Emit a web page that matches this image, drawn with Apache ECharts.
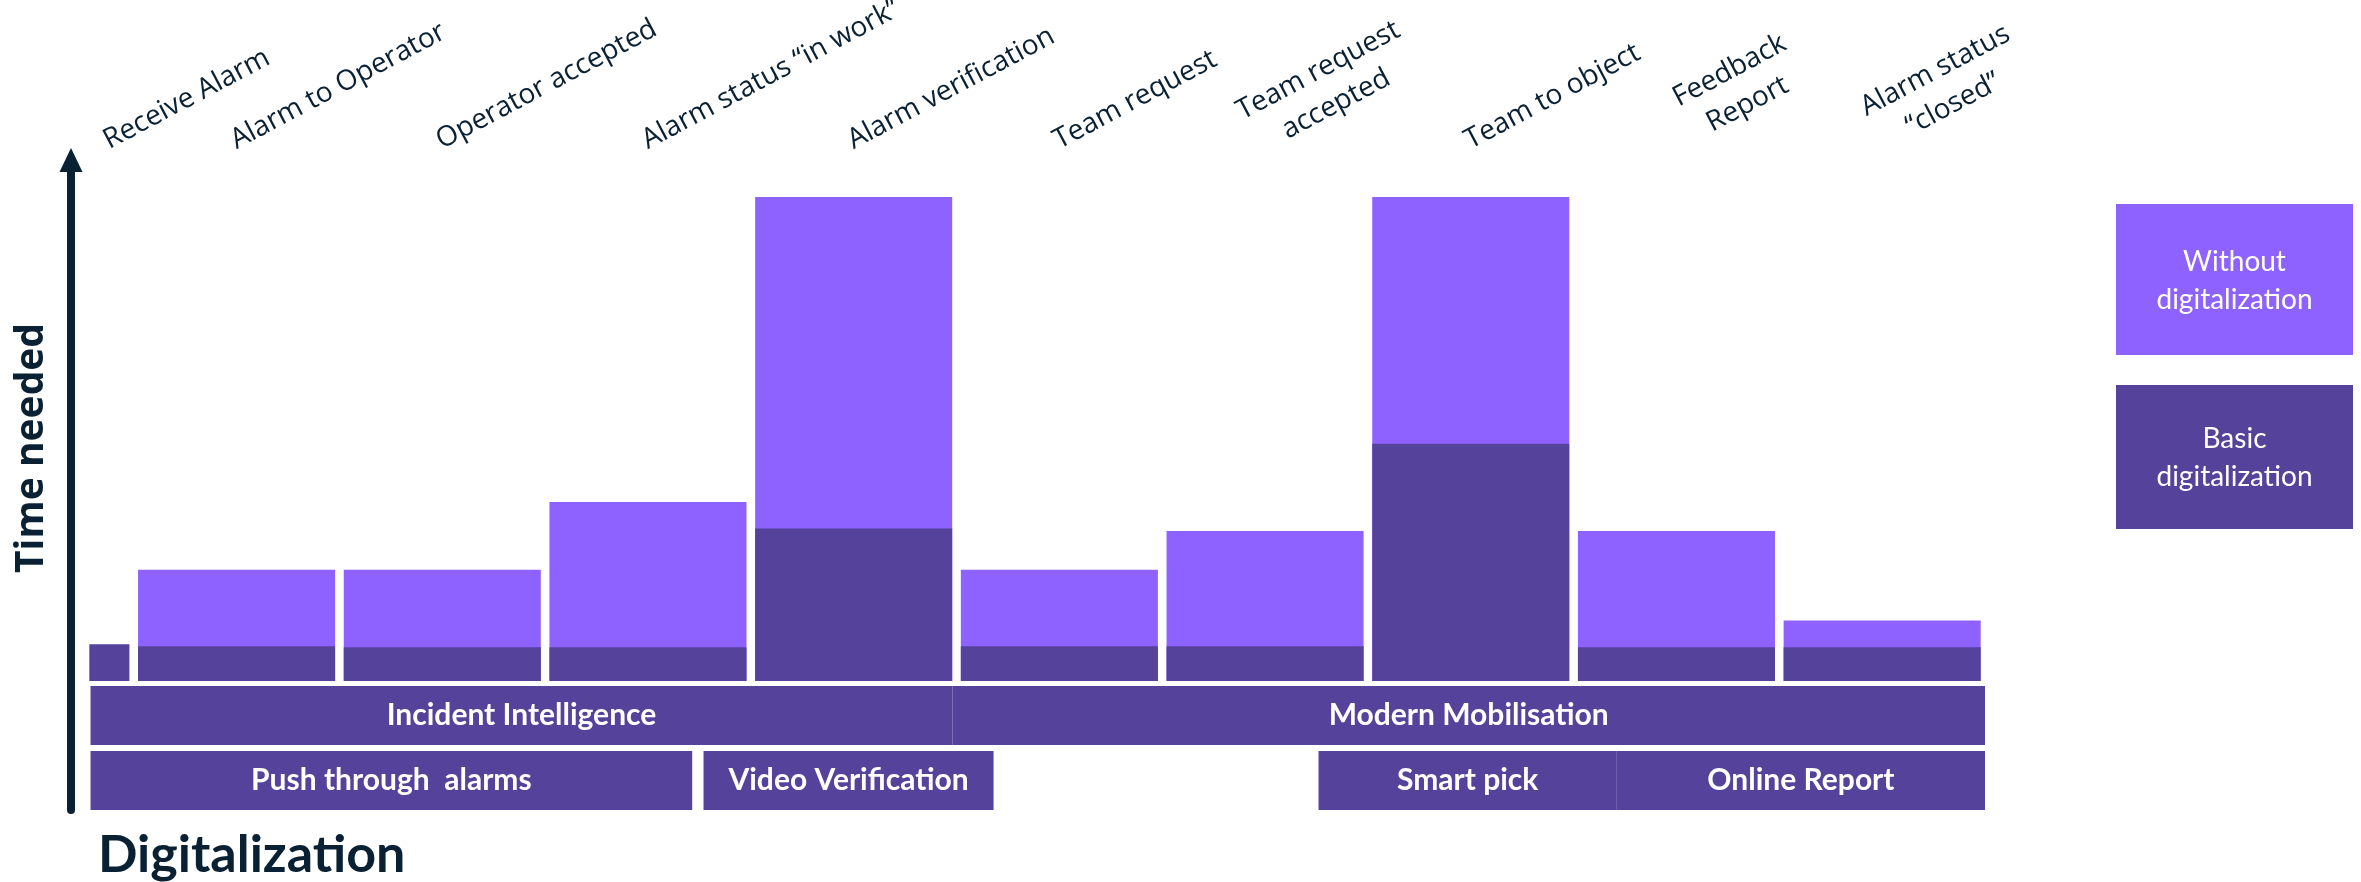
<!DOCTYPE html>
<html>
<head>
<meta charset="utf-8">
<script src="https://cdn.jsdelivr.net/npm/echarts/dist/echarts.min.js"></script>
<style>
  html, body { margin: 0; padding: 0; background: #fff; }
  #chart { width: 2361px; height: 882px; }
</style>
</head>
<body>
<div id="chart"></div>
<script>
// process steps (x categories)
const categories = [
  'Receive Alarm',
  'Alarm to Operator',
  'Operator accepted',
  'Alarm status “in work”',
  'Alarm verification',
  'Team request',
  'Team request\naccepted',
  'Team to object',
  'Feedback\nReport',
  'Alarm status\n“closed”',
];
// time needed per step (relative units, tallest = 100)
const withoutDigital = ['-', 23, 23, 37, 100, 23, 31, 100, 31, 12.5];
const basicDigital = [7.6, 7.2, 7, 7, 31.5, 7.2, 7.2, 49, 7, 7];

// digitalization layers, spans in step units
const layerNames = ['Incident Intelligence', 'Modern Mobilisation'];
const layerSpans = [[0.29, 4.48], [4.48, 9.5]];
const solutionNames = ['Push through  alarms', 'Video Verification', 'Smart pick', 'Online Report'];
const solutionSpans = [[0.29, 3.215], [3.27, 4.68], [6.26, 7.71], [7.71, 9.5]];

const seriesNames = ['Without digitalization', 'Basic digitalization'];

const LIGHT = '#8e62ff';
const DARK = '#54429b';
const NAVY = '#0a2133';

const chart = echarts.init(document.getElementById('chart'));

// rectangle of a step bar; first step is only an instant, so a thin bar at the right of its slot
function barRect(api, i, value) {
  const slot = api.size([1, 0])[0];
  const half = slot * 0.479;
  const base = api.coord([i, 0]);
  const top = api.coord([i, value]);
  let w = half * 2;
  let x = base[0] - half;
  if (i === 0) {
    w = slot * 0.195;
    x = base[0] + half - w;
  }
  return { x: x, y: top[1], width: w, height: base[1] - top[1] };
}

function barRenderer(color) {
  return function (params, api) {
    const v = api.value(1);
    if (isNaN(v)) return;
    return {
      type: 'rect',
      shape: barRect(api, api.value(0), v),
      style: { fill: color },
    };
  };
}

function bandRenderer(names, row) {
  return function (params, api) {
    const p0 = api.coord([api.value(0), 0]);
    const p1 = api.coord([api.value(1), 0]);
    const y = p0[1] + 5 + row * 65;
    const h = 59;
    return {
      type: 'group',
      children: [
        { type: 'rect', shape: { x: p0[0], y: y, width: p1[0] - p0[0], height: h }, style: { fill: DARK } },
        {
          type: 'text',
          x: (p0[0] + p1[0]) / 2,
          y: y + h / 2,
          style: {
            text: names[params.dataIndex],
            align: 'center',
            verticalAlign: 'middle',
            fill: '#fff',
            fontFamily: 'Lato',
            fontWeight: 'bold',
            fontSize: 30,
          },
        },
      ],
    };
  };
}

chart.setOption({
  animation: false,
  title: {
    text: 'Digitalization',
    left: 98,
    top: 829,
    padding: 0,
    textStyle: { fontFamily: 'Lato', fontWeight: 'bold', fontSize: 52, color: NAVY },
  },
  grid: { left: 71, right: 376, top: 160, bottom: 72 },
  xAxis: { type: 'value', min: 0.195, max: 9.5, show: false },
  yAxis: {
    type: 'value',
    min: -26.65,
    max: 107.65,
    name: 'Time needed',
    nameLocation: 'middle',
    nameRotate: 90,
    nameGap: 20,
    nameTextStyle: {
      fontFamily: 'Open Sans',
      fontWeight: 'bold',
      fontSize: 39,
      color: NAVY,
      padding: [0, 0, 0, 74],
    },
    axisLine: {
      show: true,
      symbol: ['none', 'triangle'],
      symbolSize: [23, 24],
      lineStyle: { color: NAVY, width: 8 },
    },
    axisTick: { show: false },
    axisLabel: { show: false },
    splitLine: { show: false },
  },
  series: [
    {
      name: seriesNames[0],
      type: 'custom',
      z: 2,
      renderItem: barRenderer(LIGHT),
      data: withoutDigital.map((v, i) => [i, v]),
    },
    {
      name: seriesNames[1],
      type: 'custom',
      z: 3,
      renderItem: barRenderer(DARK),
      data: basicDigital.map((v, i) => [i, v]),
    },
    {
      // step labels above the bars
      name: 'steps',
      type: 'custom',
      z: 3,
      renderItem: function (params, api) {
        const i = api.value(0);
        const text = categories[i];
        const r = barRect(api, i, 0);
        const cx = r.x + r.width / 2;
        const topY = api.coord([i, 100])[1];
        const multi = text.indexOf('\n') > -1;
        return {
          type: 'text',
          x: multi ? cx + 80 : cx + 5,
          y: multi ? topY - 76 : topY - 38,
          rotation: (28 * Math.PI) / 180,
          style: {
            text: text,
            align: multi ? 'center' : 'left',
            verticalAlign: 'bottom',
            fontFamily: 'Open Sans',
            fontSize: 28,
            lineHeight: 38,
            fill: NAVY,
          },
        };
      },
      data: categories.map((c, i) => [i, 0]),
    },
    {
      name: 'layers',
      type: 'custom',
      z: 3,
      renderItem: bandRenderer(layerNames, 0),
      data: layerSpans,
    },
    {
      name: 'solutions',
      type: 'custom',
      z: 3,
      renderItem: bandRenderer(solutionNames, 1),
      data: solutionSpans,
    },
  ],
  // legend boxes with the text inside
  graphic: [
    {
      type: 'group',
      left: 2116,
      top: 204,
      children: [
        { type: 'rect', shape: { x: 0, y: 0, width: 237, height: 151 }, style: { fill: LIGHT } },
        {
          type: 'text',
          x: 118.5,
          y: 77,
          style: {
            text: seriesNames[0].replace(' ', '\n'),
            align: 'center',
            verticalAlign: 'middle',
            fill: '#fff',
            fontFamily: 'Lato',
            fontSize: 28,
            lineHeight: 38,
          },
        },
      ],
    },
    {
      type: 'group',
      left: 2116,
      top: 385,
      children: [
        { type: 'rect', shape: { x: 0, y: 0, width: 237, height: 144 }, style: { fill: DARK } },
        {
          type: 'text',
          x: 118.5,
          y: 73,
          style: {
            text: seriesNames[1].replace(' ', '\n'),
            align: 'center',
            verticalAlign: 'middle',
            fill: '#fff',
            fontFamily: 'Lato',
            fontSize: 28,
            lineHeight: 38,
          },
        },
      ],
    },
  ],
});
</script>
</body>
</html>
